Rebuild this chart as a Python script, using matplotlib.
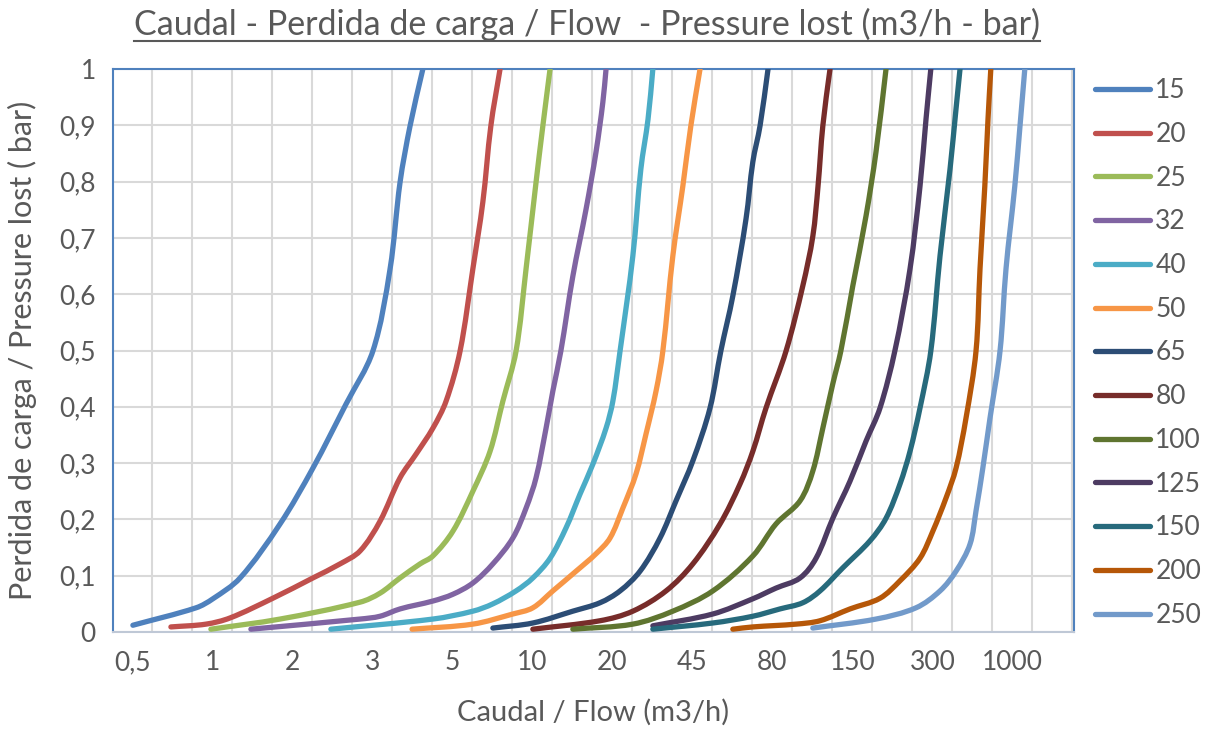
import matplotlib
matplotlib.use("Agg")
import math
import matplotlib.pyplot as plt
from matplotlib.lines import Line2D
from matplotlib.path import Path
from matplotlib.patches import PathPatch

plt.rcParams['font.family'] = ['Lato', 'DejaVu Sans']

# x-axis category labels (flow, m3/h) placed at positions 0.5, 2.5, ...
flow_labels = ["0,5", "1", "2", "3", "5", "10", "20", "45", "80", "150", "300", "1000"]
label_pos = [0.5, 2.5, 4.5, 6.5, 8.5, 10.5, 12.5, 14.5, 16.5, 18.5, 20.5, 22.5]

series_names = ["15", "20", "25", "32", "40", "50", "65", "80", "100", "125", "150", "200", "250"]
series_colors = ["#4F81BD", "#C0504D", "#9BBB59", "#8064A2", "#4BACC6", "#F79646", "#2C4D75",
                 "#772C2A", "#5F7530", "#4D3B62", "#276A7C", "#B65708", "#729ACA"]

x_15 = [0.51, 2.09, 2.51, 3.19, 4.19, 5.01, 5.84, 6.51, 6.94, 7.19, 7.44, 7.76]
y_15 = [0.012, 0.043, 0.059, 0.096, 0.192, 0.291, 0.405, 0.499, 0.645, 0.799, 0.899, 1.0]

x_20 = [1.46, 2.34, 2.94, 4.01, 5.01, 5.69, 6.19, 6.69, 7.19, 7.59, 8.01, 8.34, 8.69, 9.01, 9.26, 9.46, 9.69]
y_20 = [0.009, 0.014, 0.025, 0.060, 0.096, 0.121, 0.144, 0.197, 0.274, 0.316, 0.362, 0.410, 0.499, 0.645, 0.764, 0.899, 1.0]

x_25 = [2.46, 4.19, 6.19, 6.69, 7.19, 7.69, 8.01, 8.51, 9.01, 9.44, 9.76, 10.09, 10.34, 10.59, 10.76, 10.94]
y_25 = [0.005, 0.023, 0.053, 0.069, 0.096, 0.121, 0.135, 0.179, 0.250, 0.321, 0.410, 0.499, 0.645, 0.799, 0.899, 1.0]

x_32 = [3.46, 6.19, 6.69, 7.19, 8.01, 8.51, 9.01, 9.51, 10.01, 10.34, 10.59, 10.84, 11.01, 11.21, 11.51, 11.84, 12.09, 12.26, 12.34]
y_32 = [0.005, 0.023, 0.028, 0.041, 0.055, 0.067, 0.087, 0.121, 0.167, 0.220, 0.274, 0.362, 0.428, 0.499, 0.632, 0.751, 0.853, 0.941, 1.0]

x_40 = [5.46, 8.01, 9.01, 9.51, 10.09, 10.51, 10.94, 11.34, 11.69, 12.01, 12.34, 12.51, 12.69, 13.01, 13.21, 13.39, 13.51]
y_40 = [0.005, 0.023, 0.037, 0.050, 0.073, 0.096, 0.131, 0.185, 0.245, 0.298, 0.362, 0.410, 0.499, 0.668, 0.822, 0.911, 1.0]

x_50 = [7.49, 9.01, 10.01, 10.51, 11.01, 11.59, 12.09, 12.44, 12.76, 13.09, 13.34, 13.59, 13.76, 14.01, 14.26, 14.46, 14.69]
y_50 = [0.005, 0.014, 0.032, 0.043, 0.073, 0.108, 0.139, 0.167, 0.220, 0.281, 0.352, 0.428, 0.499, 0.668, 0.792, 0.899, 1.0]

x_65 = [9.51, 10.51, 11.51, 12.19, 12.69, 13.19, 13.69, 14.09, 14.51, 14.94, 15.21, 15.51, 15.84, 16.01, 16.19, 16.39]
y_65 = [0.007, 0.016, 0.037, 0.052, 0.073, 0.108, 0.167, 0.233, 0.304, 0.398, 0.499, 0.597, 0.734, 0.835, 0.899, 1.0]

x_80 = [10.51, 12.19, 13.01, 13.84, 14.51, 15.19, 15.69, 16.01, 16.34, 16.84, 17.26, 17.51, 17.64, 17.76, 17.94]
y_80 = [0.005, 0.020, 0.037, 0.073, 0.121, 0.192, 0.263, 0.321, 0.398, 0.499, 0.615, 0.703, 0.792, 0.899, 1.0]

x_100 = [11.51, 13.01, 14.01, 15.01, 16.01, 16.59, 17.19, 17.51, 17.76, 18.01, 18.21, 18.51, 18.84, 19.09, 19.34]
y_100 = [0.005, 0.014, 0.037, 0.073, 0.135, 0.192, 0.233, 0.286, 0.362, 0.441, 0.499, 0.615, 0.739, 0.853, 1.0]

x_125 = [13.51, 15.01, 16.01, 16.59, 17.19, 17.59, 18.01, 18.44, 18.84, 19.19, 19.56, 19.94, 20.19, 20.34, 20.46]
y_125 = [0.011, 0.032, 0.059, 0.078, 0.096, 0.131, 0.202, 0.268, 0.339, 0.398, 0.499, 0.645, 0.792, 0.911, 1.0]

x_150 = [13.51, 15.01, 16.01, 16.69, 17.26, 17.69, 18.26, 18.94, 19.34, 19.69, 19.94, 20.19, 20.46, 20.69, 20.94, 21.09, 21.19]
y_150 = [0.005, 0.016, 0.028, 0.041, 0.052, 0.073, 0.114, 0.162, 0.202, 0.263, 0.321, 0.398, 0.499, 0.668, 0.822, 0.929, 1.0]

x_200 = [15.51, 16.01, 17.09, 17.69, 18.44, 19.19, 19.69, 20.19, 20.51, 20.84, 21.09, 21.34, 21.59, 21.69, 21.81, 21.89, 21.96]
y_200 = [0.005, 0.009, 0.014, 0.020, 0.041, 0.060, 0.091, 0.131, 0.179, 0.238, 0.291, 0.380, 0.499, 0.645, 0.792, 0.911, 1.0]

x_250 = [17.51, 19.09, 20.09, 20.69, 21.09, 21.44, 21.59, 21.76, 21.94, 22.19, 22.34, 22.56, 22.69, 22.81]
y_250 = [0.007, 0.023, 0.043, 0.073, 0.108, 0.156, 0.215, 0.291, 0.380, 0.499, 0.645, 0.792, 0.899, 1.0]

xs = [x_15, x_20, x_25, x_32, x_40, x_50, x_65, x_80, x_100, x_125, x_150, x_200, x_250]
ys = [y_15, y_20, y_25, y_32, y_40, y_50, y_65, y_80, y_100, y_125, y_150, y_200, y_250]

y_ticks = [0, 0.1, 0.2, 0.3, 0.4, 0.5, 0.6, 0.7, 0.8, 0.9, 1.0]
y_tick_labels = ["0", "0,1", "0,2", "0,3", "0,4", "0,5", "0,6", "0,7", "0,8", "0,9", "1"]

text_color = "#595959"

# aspect scaling so smoothing is done in roughly isotropic (screen-like) space
SX, SY = 40.0, 563.0


def smooth_path(x, y):
    """Bezier path through the data points (like Excel's smoothed line)."""
    n = len(x)
    P = [(x[i] * SX, y[i] * SY) for i in range(n)]
    tang = []
    for i in range(n):
        a = P[i - 1] if i > 0 else P[i]
        b = P[i + 1] if i < n - 1 else P[i]
        dx, dy = b[0] - a[0], b[1] - a[1]
        L = math.hypot(dx, dy) or 1.0
        tang.append((dx / L, dy / L))
    verts = [(x[0], y[0])]
    codes = [Path.MOVETO]
    for i in range(n - 1):
        p1, p2 = P[i], P[i + 1]
        d = math.hypot(p2[0] - p1[0], p2[1] - p1[1]) / 3.0
        c1 = (p1[0] + tang[i][0] * d, p1[1] + tang[i][1] * d)
        c2 = (p2[0] - tang[i + 1][0] * d, p2[1] - tang[i + 1][1] * d)
        verts += [(c1[0] / SX, c1[1] / SY), (c2[0] / SX, c2[1] / SY), (x[i + 1], y[i + 1])]
        codes += [Path.CURVE4] * 3
    return Path(verts, codes)


fig = plt.figure(figsize=(12.1, 7.29), dpi=100)
ax = fig.add_axes([112.5 / 1210, 1 - 632 / 729, (1074 - 112.5) / 1210, (632 - 69) / 729])

for name, col, x, y in zip(series_names, series_colors, xs, ys):
    patch = PathPatch(smooth_path(x, y), facecolor='none', edgecolor=col, lw=3.8,
                      capstyle='round', joinstyle='round', zorder=3, clip_on=True)
    ax.add_patch(patch)
    ax.plot([], [], color=col, lw=3.8, solid_capstyle='round', label=name)

ax.set_xlim(0, 24.04)
ax.set_ylim(0, 1)

ax.set_xticks(label_pos)
ax.set_xticklabels(flow_labels)
ax.set_xticks(list(range(1, 25)), minor=True)
ax.set_yticks(y_ticks)
ax.set_yticklabels(y_tick_labels)

ax.tick_params(axis='x', which='major', length=0, pad=13, labelsize=19, labelcolor=text_color)
ax.tick_params(axis='x', which='minor', length=0)
ax.tick_params(axis='y', length=0, pad=12, labelsize=19, labelcolor=text_color)

ax.grid(False, which='major', axis='x')
ax.grid(True, which='minor', axis='x', color='#D9D9D9', lw=1.5, zorder=0)
ax.grid(True, which='major', axis='y', color='#D9D9D9', lw=1.5, zorder=0)
ax.set_axisbelow(True)

for s in ['left', 'top', 'right']:
    ax.spines[s].set_color('#4F81BD')
    ax.spines[s].set_linewidth(1.5)
ax.spines['bottom'].set_color('#BFC8D6')
ax.spines['bottom'].set_linewidth(1.5)

ax.set_xlabel("Caudal / Flow (m3/h)", fontsize=21, color=text_color)
ax.set_ylabel("Perdida de carga / Pressure lost ( bar)", fontsize=22, color=text_color)
ax.xaxis.set_label_coords(0.5, (632 - 712) / 563)
ax.yaxis.set_label_coords((22 - 112.5) / 961.5, 0.5)
ax.xaxis.label.set_va('center')
ax.yaxis.label.set_va('center')

leg = ax.legend(loc='upper left', bbox_to_anchor=(1.005, 1.012), frameon=False, fontsize=19,
                handlelength=2.1, handletextpad=0.2, labelspacing=0.71, borderaxespad=0.2)
for t in leg.get_texts():
    t.set_color(text_color)

title = fig.text(0.4855, 0.967, "Caudal - Perdida de carga / Flow  - Pressure lost (m3/h - bar)",
                 ha='center', va='center', fontsize=24.5, color=text_color)
fig.canvas.draw()
bb = title.get_window_extent()
ux0, ux1 = bb.x0 / 1210, bb.x1 / 1210
uy = 1 - 41 / 729
fig.add_artist(Line2D([ux0, ux1], [uy, uy], transform=fig.transFigure, color=text_color, lw=1.5))

fig.savefig("out.png", dpi=100)
